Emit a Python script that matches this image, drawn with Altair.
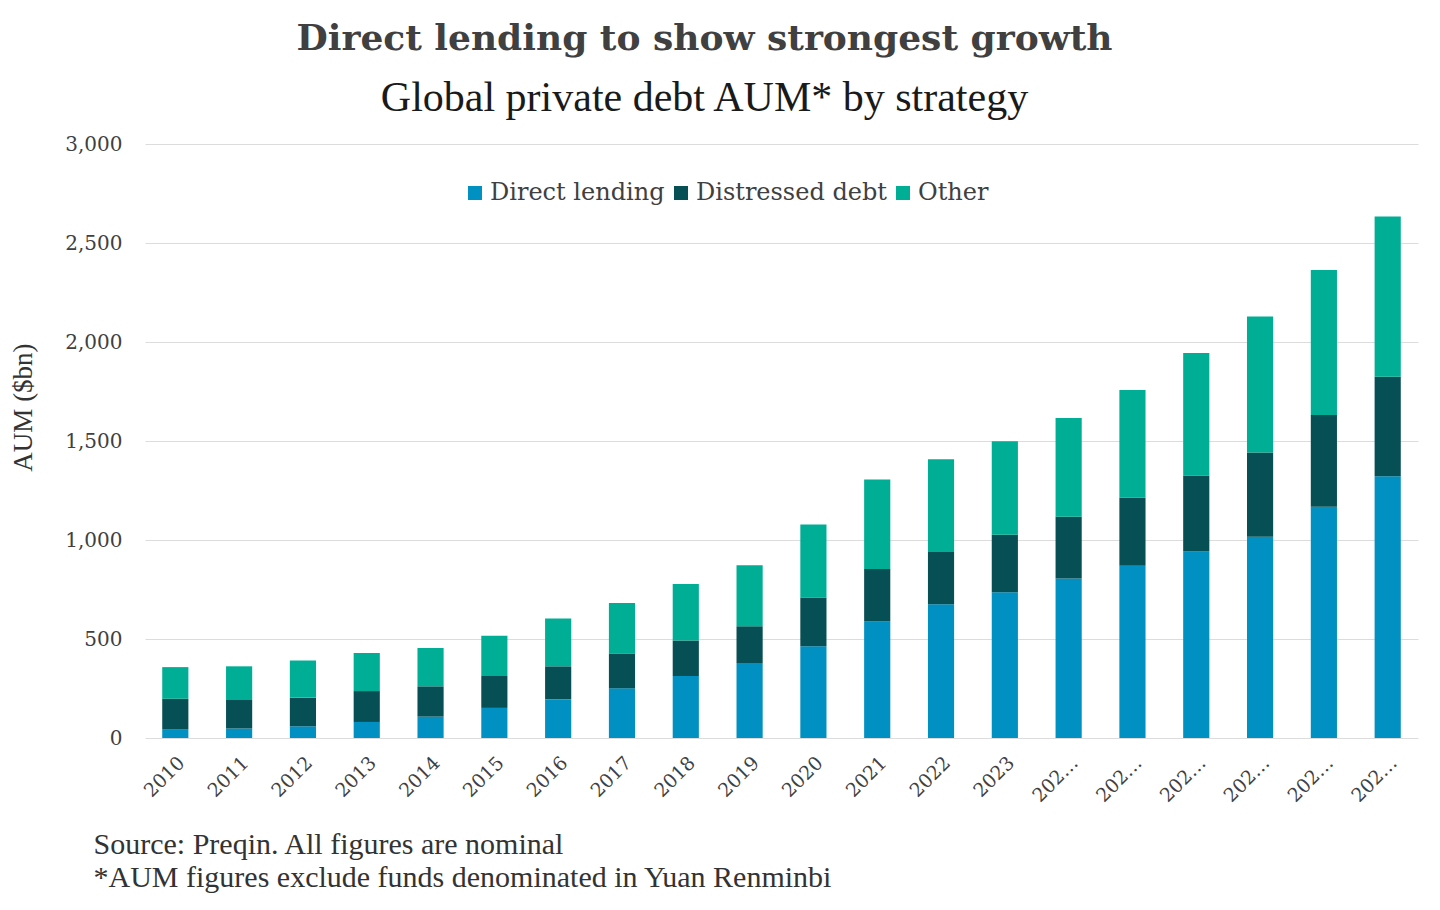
import altair as alt
import pandas as pd

years = ["2010", "2011", "2012", "2013", "2014", "2015", "2016", "2017", "2018", "2019",
         "2020", "2021", "2022", "2023", "2024F", "2025F", "2026F", "2027F", "2028F", "2029F"]
direct_lending = [45, 48, 59, 81, 108, 152, 195, 251, 313, 379,
                  463, 589, 675, 736, 805, 870, 942, 1017, 1168, 1322]
distressed_debt = [153, 144, 145, 156, 153, 161, 167, 176, 180, 185,
                   246, 265, 264, 291, 313, 344, 384, 425, 463, 502]
other = [160, 170, 188, 192, 194, 204, 242, 255, 285, 308,
         369, 451, 469, 472, 498, 544, 618, 687, 733, 810]

strategies = ["Direct lending", "Distressed debt", "Other"]
colors = ["#0090C1", "#064F55", "#00AE95"]

rows = []
for i, y in enumerate(years):
    for k, (name, vals) in enumerate(zip(strategies, [direct_lending, distressed_debt, other])):
        rows.append({"year": y, "strategy": name, "value": vals[i], "rank": k})
df = pd.DataFrame(rows)

chart = alt.Chart(df).mark_bar().encode(
    x=alt.X("year:N", sort=years,
            scale=alt.Scale(paddingInner=0.59, paddingOuter=0.27),
            axis=alt.Axis(
                labelAngle=-45,
                labelFont="DejaVu Serif", labelFontSize=19, labelColor="#404040",
                labelExpr="length(datum.label) > 4 ? slice(datum.label, 0, 3) + '…' : datum.label",
                labelPadding=15,
                ticks=False, domain=False, grid=False,
                title=["Source: Preqin. All figures are nominal",
                       "*AUM figures exclude funds denominated in Yuan Renminbi"],
                titleFont="Liberation Serif", titleFontSize=30, titleFontWeight="normal",
                titleColor="#333333", titleAnchor="start", titleAlign="left",
                titleBaseline="alphabetic", titleX=-52, titleY=115, titleLineHeight=33,
            )),
    y=alt.Y("value:Q", stack="zero",
            scale=alt.Scale(domain=[0, 3000], nice=False),
            axis=alt.Axis(
                values=[0, 500, 1000, 1500, 2000, 2500, 3000], format=",.0f",
                labelFont="DejaVu Serif", labelFontSize=20, labelColor="#404040",
                labelPadding=23, ticks=False, domain=False,
                grid=True, gridColor="#dcdcdc", gridWidth=1,
                title="AUM ($bn)", titleFont="Liberation Serif", titleFontSize=27,
                titleFontWeight="normal", titleColor="#333333",
                titleX=-108, titleY=263,
            )),
    color=alt.Color("strategy:N",
                    scale=alt.Scale(domain=strategies, range=colors),
                    legend=alt.Legend(
                        title=None, orient="none", legendX=318, legendY=37,
                        direction="horizontal", columns=3,
                        symbolType="square", symbolSize=196, symbolStrokeWidth=0,
                        labelFont="DejaVu Serif", labelFontSize=24, labelColor="#404040",
                        labelOffset=3, columnPadding=4, labelLimit=400,
                    )),
    order=alt.Order("rank:Q", sort="ascending"),
).properties(
    width=1273, height=594,
    padding={"left": 137, "top": 136, "right": 6, "bottom": 156},
    autosize=alt.AutoSizeParams(type="none"),
    title=alt.TitleParams(
        text="Direct lending to show strongest growth",
        subtitle="Global private debt AUM* by strategy",
        font="DejaVu Serif", fontSize=36, fontWeight="bold", color="#404040",
        subtitleFont="Liberation Serif", subtitleFontSize=42, subtitleColor="#1a1a1a",
        subtitlePadding=20, anchor="middle", frame="group", dx=-77, offset=14,
    ),
).configure_view(stroke=None)

chart.save("out.html", embed_options={"renderer": "svg", "actions": False})
